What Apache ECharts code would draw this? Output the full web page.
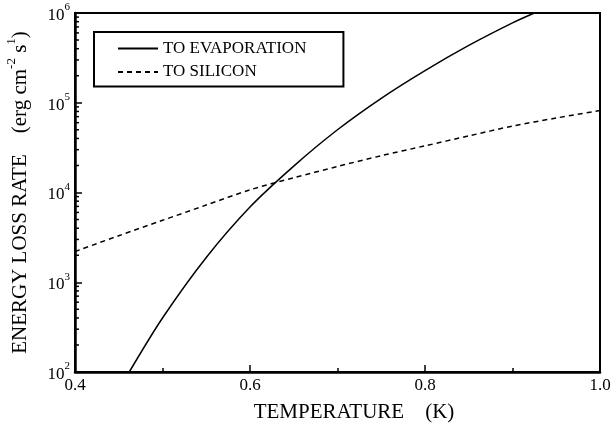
<!DOCTYPE html>
<html>
<head>
<meta charset="utf-8">
<script src="https://cdn.jsdelivr.net/npm/echarts@6/dist/echarts.min.js"></script>
<style>
  html, body { margin: 0; padding: 0; background: #fff; }
  #chart { width: 616px; height: 433px; }
</style>
</head>
<body>
<div id="chart"></div>
<script>
// Energy loss rate vs temperature: evaporation and conduction to silicon
const seriesNames = ['TO EVAPORATION', 'TO SILICON'];

// [temperature (K), rate (erg cm^-2 s^-1)]
const evaporation = [
  [0.462, 100], [0.50, 400], [0.55, 1890], [0.60, 6900], [0.65, 19700],
  [0.70, 50000], [0.75, 112000], [0.80, 228000], [0.85, 435000],
  [0.90, 776000], [0.925, 1000000]
];
const silicon = [
  [0.40, 2200], [0.45, 3300], [0.50, 4900], [0.55, 7250], [0.60, 10700],
  [0.65, 14600], [0.70, 19500], [0.75, 25700], [0.80, 33100], [0.85, 42700],
  [0.90, 55000], [0.95, 67600], [1.00, 82000]
];

const xTickLabels = ['0.4', '0.6', '0.8', '1.0'];
const yTickExponents = [2, 3, 4, 5, 6];

const xMin = Number(xTickLabels[0]);
const xMax = Number(xTickLabels[xTickLabels.length - 1]);
const yMin = Math.pow(10, yTickExponents[0]);
const yMax = Math.pow(10, yTickExponents[yTickExponents.length - 1]);

// minor ticks 2..9 in every decade of the log axis
const yMinorTicks = [];
for (let i = 0; i < yTickExponents.length - 1; i++) {
  for (let m = 2; m <= 9; m++) yMinorTicks.push([xMin, m * Math.pow(10, yTickExponents[i])]);
}

const serif = "'Liberation Serif', 'DejaVu Serif', 'Times New Roman', serif";

const chart = echarts.init(document.getElementById('chart'), null, { renderer: 'canvas' });

chart.setOption({
  animation: false,
  backgroundColor: '#fff',
  grid: {
    left: 75, right: 16, top: 13, bottom: 61,
    outerBoundsMode: 'none',
    containLabel: false,
    show: true, borderColor: '#000', borderWidth: 2, backgroundColor: 'transparent'
  },
  legend: {
    data: seriesNames,
    orient: 'vertical',
    left: 94, top: 32,
    itemWidth: 40, itemHeight: 14, itemGap: 6.4,
    padding: [8, 37, 6, 23],
    borderColor: '#000', borderWidth: 2,
    itemStyle: { color: 'transparent', borderColor: 'transparent', borderWidth: 0 },
    textStyle: { fontFamily: serif, fontSize: 17, lineHeight: 14, color: '#000' }
  },
  xAxis: {
    type: 'value',
    min: xMin, max: xMax, interval: 0.2,
    name: 'TEMPERATURE    (K)',
    nameLocation: 'middle',
    nameGap: 30,
    nameTextStyle: { fontFamily: serif, fontSize: 21, color: '#000', padding: [0, 0, 0, 33] },
    axisLine: { show: true, lineStyle: { color: '#000', width: 2.5 } },
    axisTick: { show: true, inside: true, length: 7, lineStyle: { color: '#000', width: 1.5 } },
    minorTick: { show: true, splitNumber: 2, length: 4, lineStyle: { color: '#000', width: 1.5 } },
    splitLine: { show: false },
    axisLabel: {
      margin: 5,
      fontFamily: serif, fontSize: 17, color: '#000',
      formatter: v => {
        const s = v.toFixed(1);
        return xTickLabels.indexOf(s) >= 0 ? s : '';
      }
    }
  },
  yAxis: {
    type: 'log', logBase: 10,
    min: yMin, max: yMax,
    name: '{a|ENERGY LOSS RATE    (erg cm}{s|-2}{a| s}{s|1}{a|)}',
    nameLocation: 'middle',
    nameRotate: 90,
    nameGap: 44,
    nameTextStyle: {
      rich: {
        a: { fontFamily: serif, fontSize: 21, color: '#000', lineHeight: 26, verticalAlign: 'bottom' },
        s: { fontFamily: serif, fontSize: 13, color: '#000', verticalAlign: 'top' }
      }
    },
    axisLine: { show: true, lineStyle: { color: '#000', width: 2.5 } },
    axisTick: { show: true, inside: true, length: 7, lineStyle: { color: '#000', width: 1.5 } },
    splitLine: { show: false },
    axisLabel: {
      margin: 5,
      formatter: v => {
        const e = Math.round(Math.log10(v));
        return yTickExponents.indexOf(e) >= 0 ? '{b|10}{s|' + e + '}' : '';
      },
      rich: {
        b: { fontFamily: serif, fontSize: 17, color: '#000', lineHeight: 22, verticalAlign: 'bottom' },
        s: { fontFamily: serif, fontSize: 11, color: '#000', verticalAlign: 'top' }
      }
    }
  },
  series: [
    {
      name: seriesNames[0],
      type: 'line',
      data: evaporation,
      showSymbol: false, symbol: 'none',
      smooth: 0.3,
      lineStyle: { color: '#000', width: 1.5, type: 'solid' },
      itemStyle: { color: '#000' }
    },
    {
      name: seriesNames[1],
      type: 'line',
      data: silicon,
      showSymbol: false, symbol: 'none',
      smooth: 0.3,
      lineStyle: { color: '#000', width: 1.5, type: [5, 4] },
      itemStyle: { color: '#000' }
    },
    {
      // minor ticks on the logarithmic axis
      type: 'custom',
      silent: true,
      data: yMinorTicks,
      renderItem: (params, api) => {
        const p = api.coord([api.value(0), api.value(1)]);
        return {
          type: 'line',
          shape: { x1: p[0], y1: p[1], x2: p[0] + 4, y2: p[1] },
          style: { stroke: '#000', lineWidth: 1.5 }
        };
      }
    }
  ]
});
</script>
</body>
</html>
